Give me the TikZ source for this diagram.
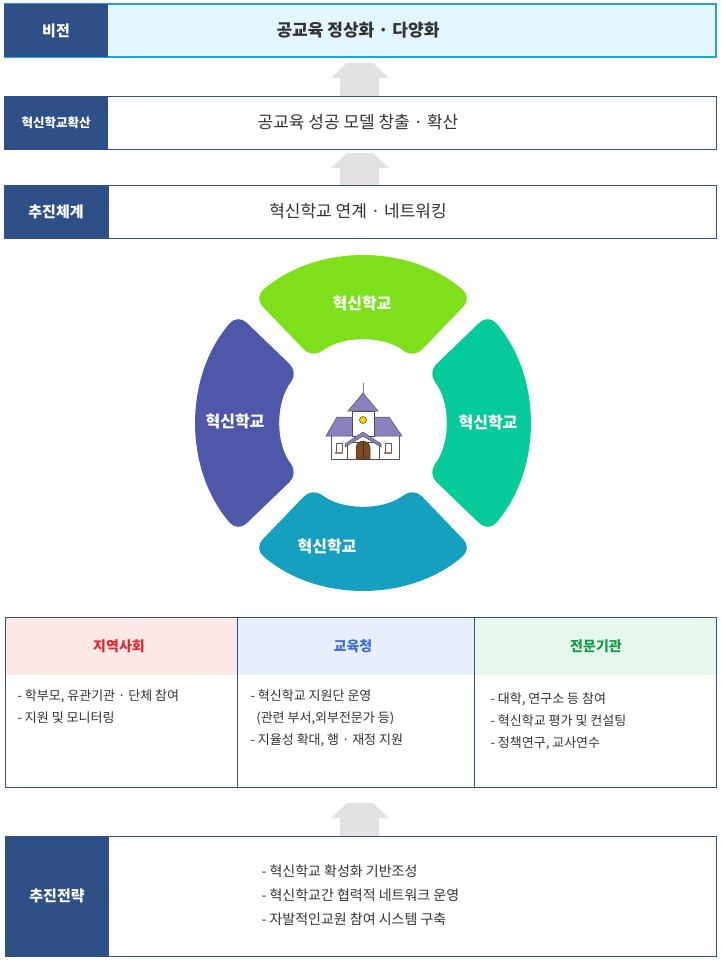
\documentclass[tikz,border=0pt]{standalone}
\usepackage{fontspec}
\setmainfont{Noto Sans CJK KR}
\usetikzlibrary{calc}
\definecolor{navy}{HTML}{2F4F87}
\definecolor{cyanln}{HTML}{1CA5D8}
\definecolor{lightblue}{HTML}{E3F5FD}
\definecolor{arr}{HTML}{E2E2E2}
\definecolor{sgreen}{HTML}{7EE01A}
\definecolor{steal}{HTML}{05CB9A}
\definecolor{sblue}{HTML}{16A0C0}
\definecolor{spurple}{HTML}{4F58A8}
\definecolor{hpink}{HTML}{FDE8E8}
\definecolor{hblue}{HTML}{E8EEFB}
\definecolor{hgreen}{HTML}{E6F8EC}
\definecolor{tred}{HTML}{E0262E}
\definecolor{tblue}{HTML}{3B6FD8}
\definecolor{tgreen}{HTML}{149A4A}
\definecolor{roof}{HTML}{8A82C0}
\definecolor{door}{HTML}{7B4A22}
\definecolor{txt}{HTML}{333333}
\tikzset{
  lab/.style={fill=navy,text=white,font=\bfseries\fontsize{15}{18}\selectfont},
  uparrow/.style={fill=arr,draw=none},
  segtxt/.style={text=white,font=\bfseries\fontsize{16}{19}\selectfont},
  body/.style={text=txt,font=\fontsize{13}{22}\selectfont,align=left,anchor=north west},
  head/.style={font=\bfseries\fontsize{14}{17}\selectfont}
}
\begin{document}
\begin{tikzpicture}[x=1pt,y=-1pt]
\useasboundingbox (0,0) rectangle (721,964);
% row 1
\fill[lightblue] (108,4) rectangle (716,57);
\draw[cyanln,line width=1.2pt] (4,4) -- (716,4) -- (716,57) -- (4,57);
\fill[navy] (4,4) rectangle (108,57);
\node[lab] (l1) at (56,30.5) {비전};
\node[text=txt,font=\bfseries\fontsize{17}{20}\selectfont] (t1) at (358,30.5) {공교육 정상화 · 다양화};
% arrows
\foreach \y/\n in {63/a1,153/a2,803/a3}{
  \fill[uparrow] (340,\y+33) -- (340,\y+15) -- (331,\y+15) -- (347,\y) -- (373,\y) -- (389,\y+15) -- (379,\y+15) -- (379,\y+33) -- cycle;
}
% row 2
\draw[navy,line width=0.8pt] (4,96) rectangle (716,149);
\fill[navy] (4,96) rectangle (108,149);
\node[lab,font=\bfseries\fontsize{12.5}{15}\selectfont] (l2) at (56,122.5) {혁신학교확산};
\node[text=txt,font=\fontsize{17}{20}\selectfont] (t2) at (358,122.5) {공교육 성공 모델 창출 · 확산};
% row 3
\draw[navy,line width=0.8pt] (4,185) rectangle (716,238);
\fill[navy] (4,185) rectangle (109,238);
\node[lab] (l3) at (56,211.5) {추진체계};
\node[text=txt,font=\fontsize{17}{20}\selectfont] (t3) at (358,211.5) {혁신학교 연계 · 네트워킹};
% ring
\coordinate (c) at (363,423);
\foreach \a/\col in {90/sgreen,0/steal,270/sblue,180/spurple}{
  \fill[\col,rounded corners=12pt] ($(c)+(\a-41:166pt)$) arc[start angle=\a-41,end angle=\a+41,radius=166pt]
     -- ($(c)+(\a+38:82pt)$) arc[start angle=\a+38,end angle=\a-38,radius=82pt] -- cycle;
}
\node[segtxt] (s1) at (362,303) {혁신학교};
\node[segtxt] (s2) at (488,422) {혁신학교};
\node[segtxt] (s3) at (327,546) {혁신학교};
\node[segtxt] (s4) at (235,421) {혁신학교};
% school icon
\draw[gray,line width=0.6pt] (363,383) -- (363,393);
\draw[fill=white,draw=gray!70!black,line width=0.5pt] (331,434) rectangle (399,459);
\draw[fill=roof,draw=gray!60!black,line width=0.5pt] (326,436) -- (337,417) -- (389,417) -- (402,436) -- cycle;
\draw[fill=white,draw=gray!60!black,line width=0.5pt] (352,411) rectangle (374,436);
\draw[fill=roof,draw=gray!60!black,line width=0.5pt] (348,411) -- (363,393) -- (378,411) -- cycle;
\draw[fill=white,draw=gray!60!black,line width=0.5pt] (347,442) rectangle (379,459);
\draw[fill=roof,draw=gray!60!black,line width=0.5pt] (345,444) -- (363,432) -- (381,444) -- (381,447) -- (363,436) -- (345,447) -- cycle;
\draw[fill=yellow!70!orange,draw=door,line width=0.6pt] (363,420) circle (3.5pt);
\draw[fill=door,draw=door!70!black,line width=0.5pt] (356,459) -- (356,448) arc[start angle=180,end angle=0,radius=7pt] -- (370,459) -- cycle;
\draw[door!60!black,line width=0.4pt] (363,441) -- (363,459);
\draw[fill=white,draw=gray!70!black,line width=0.4pt] (336,443) rectangle (342,452);
\draw[fill=white,draw=gray!70!black,line width=0.4pt] (385,443) rectangle (391,452);
\fill[door!70] (335,452) rectangle (343,454);
\fill[door!70] (384,452) rectangle (392,454);
% table
\fill[hpink] (5,617) rectangle (237,675);
\fill[hblue] (237,617) rectangle (474,675);
\fill[hgreen] (474,617) rectangle (716,675);
\draw[navy,line width=0.8pt] (5,617) rectangle (716,787);
\draw[navy,line width=0.8pt] (237,617) -- (237,787);
\draw[navy,line width=0.8pt] (474,617) -- (474,787);
\node[head,text=tred] (h1) at (119,646) {지역사회};
\node[head,text=tblue] (h2) at (353,646) {교육청};
\node[head,text=tgreen] (h3) at (596,646) {전문기관};
\node[body] (b1) at (14,686) {- 학부모, 유관기관 · 단체 참여\\- 지원 및 모니터링};
\node[body] (b2) at (247,686) {- 혁신학교 지원단 운영\\\ \ (관련 부서,외부전문가 등)\\- 지율성 확대, 행 · 재정 지원};
\node[body] (b3) at (487,689) {- 대학, 연구소 등 참여\\- 혁신학교 평가 및 컨설팅\\- 정책연구, 교사연수};
% bottom
\draw[navy,line width=0.8pt] (5,836) rectangle (716,956);
\fill[navy] (5,836) rectangle (109,956);
\node[lab] (l4) at (57,896) {추진전략};
\node[body,font=\fontsize{14}{24}\selectfont] (b4) at (258,861) {- 혁신학교 확성화 기반조성\\- 혁신학교간 협력적 네트워크 운영\\- 자발적인교원 참여 시스템 구축};
\end{tikzpicture}
\end{document}
